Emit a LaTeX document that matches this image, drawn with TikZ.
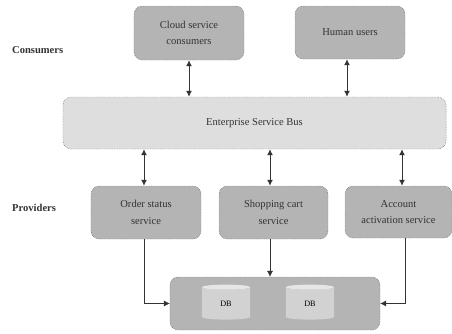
\documentclass[tikz,border=0pt]{standalone}
\usepackage{fontspec}
\setmainfont{Liberation Serif}
\usetikzlibrary{calc}
\usetikzlibrary{arrows.meta}
\usetikzlibrary{shapes.geometric}
\definecolor{boxgray}{HTML}{B4B4B4}
\definecolor{busgray}{HTML}{DEDEDE}
\definecolor{dbgray}{HTML}{D2D2D2}
\definecolor{dbtop}{HTML}{E6E6E6}
\definecolor{inkgray}{HTML}{333333}
\tikzset{
  svcbox/.style={draw=black!70,densely dotted,fill=boxgray,rounded corners=7pt,align=center,text=inkgray,font=\small,inner sep=0pt},
  link/.style={draw=black!80,thick,{Latex[length=5pt,width=5pt]}-{Latex[length=5pt,width=5pt]}},
  oneway/.style={draw=black!80,-{Latex[length=5pt,width=5pt]}},
  dbcyl/.style={cylinder,shape border rotate=90,aspect=.45,cylinder uses custom fill,cylinder body fill=dbgray,cylinder end fill=dbtop,minimum width=1.45cm,minimum height=1.05cm,inner sep=0pt,font=\scriptsize,text=black},
  sidelabel/.style={anchor=west,font=\small\bfseries,text=inkgray,inner sep=0pt}
}
\begin{document}
\begin{tikzpicture} [x=.03cm,y=-.03cm]
\useasboundingbox (0,0) rectangle (452,333);

\node[sidelabel] (consumers) at (12,50) {Consumers};
\node[sidelabel] (providers) at (12,208) {Providers};

\node[svcbox,minimum width=3.3cm,minimum height=1.62cm] (cloud) at (189,33) {Cloud service\\[3pt]consumers};
\node[svcbox,minimum width=3.3cm,minimum height=1.59cm] (human) at (350,32.5) {Human users};
\node[svcbox,fill=busgray,minimum width=11.49cm,minimum height=1.56cm] (bus) at (254.5,123) {Enterprise Service Bus};

\node[svcbox,minimum width=3.3cm,minimum height=1.59cm] (order) at (146,212.5) {Order status\\[3pt]service};
\node[svcbox,minimum width=3.27cm,minimum height=1.59cm] (cart) at (273.5,212.5) {Shopping cart\\[3pt]service};
\node[svcbox,minimum width=3.21cm,minimum height=1.56cm] (account) at (398.5,212) {Account\\[3pt]activation service};

\node[svcbox,minimum width=6.3cm,minimum height=1.59cm] (store) at (275,303.5) {};
\node[dbcyl] (dbone) at (226,303.5) {DB};
\node[dbcyl] (dbtwo) at (310,303.5) {DB};

% consumers to bus
\draw[link] (cloud.south) -- (cloud.south |- bus.north);
\draw[link] ($(human.south)+(-3,0)$) -- ($(human.south |- bus.north)+(-3,0)$);

% bus to providers
\foreach \svc/\dx in {order/-2,cart/-3.5,account/3.5} \draw[link] ($(\svc.north |- bus.south)+(\dx,0)$) -- ($(\svc.north)+(\dx,0)$);

% providers to data
\draw[oneway] ($(order.south)+(-2,0)$) |- (store.west);
\draw[oneway] ($(cart.south)+(-3.5,0)$) -- ($(cart.south |- store.north)+(-3.5,0)$);
\draw[oneway] ($(account.south)+(6.5,0)$) |- (store.east);

\end{tikzpicture}
\end{document}
